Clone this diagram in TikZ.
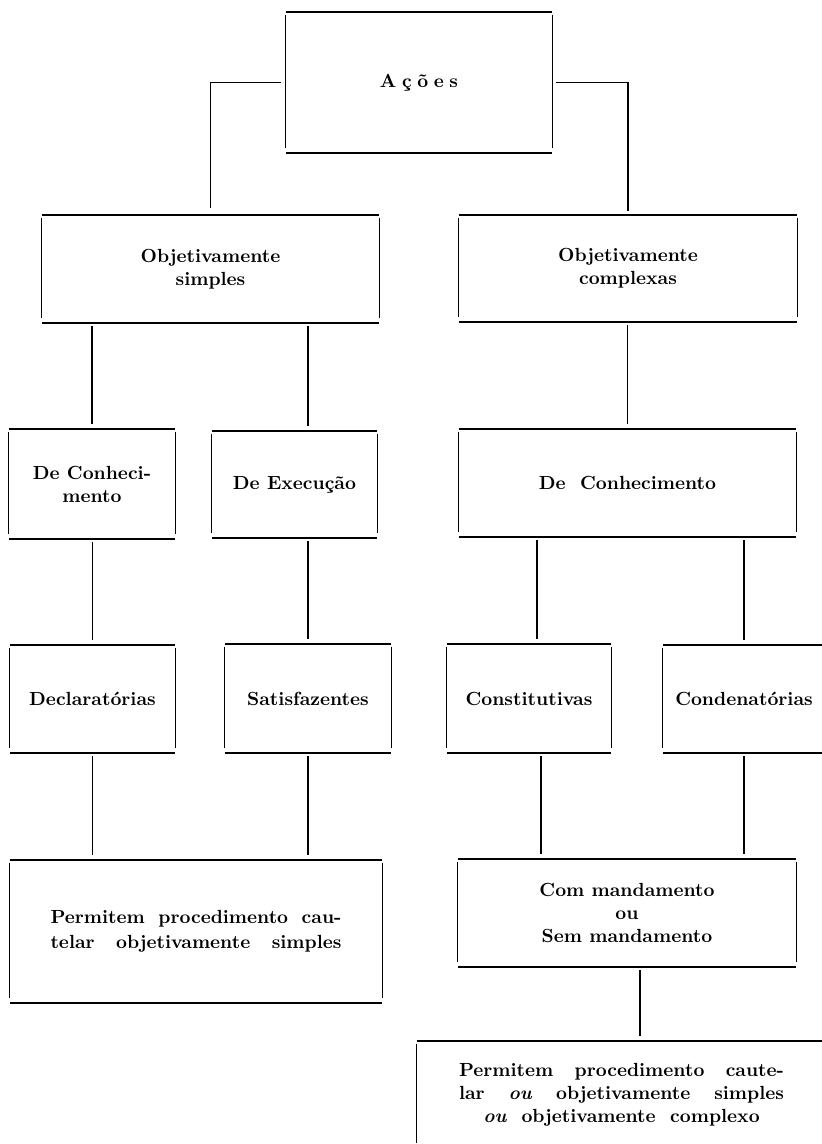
\documentclass[tikz,border=0pt]{standalone}
\usetikzlibrary{calc}

\tikzset{
  caixa/.style={inner sep=0pt, align=center, font=\fontsize{9.5}{11.5}\selectfont\bfseries},
  borda/.style={line width=1pt},
  lado/.style={line width=0.6pt},
  liga/.style={line width=0.6pt, shorten <=1.5pt, shorten >=2.5pt},
}
% linhas de uma caixa (cantos abertos)
\newcommand{\moldura}[1]{
  \draw[borda] (#1.north west) -- (#1.north east);
  \draw[borda] (#1.south west) -- (#1.south east);
  \draw[lado] ([yshift=-1.5pt]#1.north west) -- ([yshift=2.5pt]#1.south west);
  \draw[lado] ([yshift=-1.5pt]#1.north east) -- ([yshift=2.5pt]#1.south east);
}

\begin{document}
\begin{tikzpicture}[x=0.5pt,y=-0.5pt]
  \useasboundingbox (0,0) rectangle (822,1144);

  % nivel 1
  \node[caixa, minimum width=133pt, minimum height=70.5pt] (acoes) at (419,82.5)
    {A\kern2.8pt ç\kern2.8pt õ\kern2.8pt e\kern2.8pt s};
  % nivel 2
  \node[caixa, minimum width=168.5pt, minimum height=54pt] (simples) at (210.5,269) {Objetivamente\\simples};
  \node[caixa, minimum width=169pt, minimum height=53.5pt] (complexas) at (628,268.5) {Objetivamente\\complexas};
  % nivel 3
  \node[caixa, minimum width=83pt, minimum height=55pt] (conhA) at (92,484) {De Conheci-\\mento};
  \node[caixa, minimum width=82.5pt, minimum height=53.5pt] (exec) at (294.5,484.5) {De Execução};
  \node[caixa, minimum width=168.5pt, minimum height=54pt] (conhB) at (627.5,483) {De\ \ Conhecimento};
  % nivel 4
  \node[caixa, minimum width=82.5pt, minimum height=54pt] (decl) at (92.5,699) {Declaratórias};
  \node[caixa, minimum width=83pt, minimum height=54.5pt] (satis) at (308,698.5) {Satisfazentes};
  \node[caixa, minimum width=82pt, minimum height=54.5pt] (const) at (529,698.5) {Constitutivas};
  \node[caixa, minimum width=81pt, minimum height=54pt] (conden) at (744,699) {Condenatórias};
  % nivel 5
  \node[caixa, minimum width=186pt, minimum height=71.5pt, font=\fontsize{9.5}{12.5}\selectfont\bfseries] (permA) at (196,931.5)
    {\makebox[145.5pt][s]{Permitem procedimento cau-}\\\makebox[145.5pt][s]{telar objetivamente simples}};
  \node[caixa, minimum width=169pt, minimum height=54pt] (mand) at (627,913) {Com mandamento\\ou\\Sem mandamento};
  % nivel 6
  \node[caixa, minimum width=204.5pt, minimum height=53.5pt] (permB) at (621.5,1094.5)
    {\makebox[162.5pt][s]{Permitem procedimento caute-}\\\makebox[162.5pt][s]{lar \textit{ou} objetivamente simples}\\\textit{ou}\ \ objetivamente\ \ complexo};

  \moldura{acoes}
  \moldura{simples}
  \moldura{complexas}
  \moldura{conhA}
  \moldura{exec}
  \moldura{conhB}
  \moldura{decl}
  \moldura{satis}
  \moldura{const}
  \moldura{conden}
  \moldura{permA}
  \moldura{mand}
  \moldura{permB}

  % ligacoes
  \draw[liga, shorten <=2.5pt, shorten >=3.5pt] (acoes.west) -| (simples.north);
  \draw[liga, shorten <=2pt, shorten >=2pt] (acoes.east) -| (complexas.north);
  \draw[liga] (simples.south -| conhA.north) -- (conhA.north);
  \draw[liga] (simples.south -| satis.north) -- (exec.north -| satis.north);
  \draw[liga] (complexas.south -| conhB.north) -- (conhB.north);
  \draw[liga] (conhA.south -| decl.north) -- (decl.north);
  \draw[liga] (exec.south -| satis.north) -- (satis.north);
  \coordinate (k1) at ($(const.north)+(8,0)$);
  \draw[liga] (conhB.south -| k1) -- (k1);
  \draw[liga] (conhB.south -| conden.north) -- (conden.north);
  \draw[liga] (decl.south) -- (decl.south |- permA.north);
  \draw[liga] (satis.south) -- (satis.south |- permA.north);
  \coordinate (k2) at ($(const.south)+(12,0)$);
  \draw[liga] (k2) -- (k2 |- mand.north);
  \draw[liga] (conden.south) -- (conden.south |- mand.north);
  \coordinate (k3) at ($(mand.south)+(13,0)$);
  \draw[liga] (k3) -- (k3 |- permB.north);
\end{tikzpicture}
\end{document}
